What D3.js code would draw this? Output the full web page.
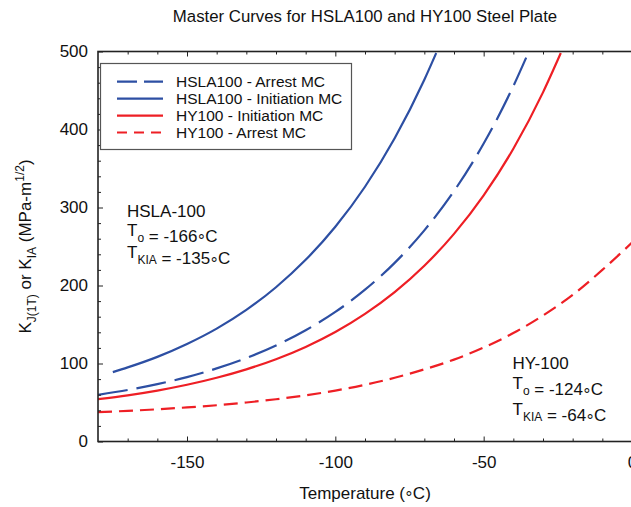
<!DOCTYPE html>
<html>
<head>
<meta charset="utf-8">
<script src="https://cdn.jsdelivr.net/npm/d3@7"></script>
<style>
  html, body { margin: 0; padding: 0; background: #fff; }
  svg { display: block; font-family: "Liberation Sans", Arial, sans-serif; }
</style>
</head>
<body>
<svg id="chart" width="631" height="507"></svg>
<script>
// Temperatures (°C) at which each master curve is tabulated
const tempHslaInit   = [-175, -170, -160, -150, -140, -130, -120, -110, -100, -90, -80, -70, -66];
const kHslaInit      = [89, 95, 108.5, 125, 144.7, 168.7, 197.8, 232.9, 275.3, 326.6, 388.7, 463.8, 498];

const tempHslaArrest = [-180, -170, -160, -150, -140, -130, -120, -110, -100, -90, -80, -70, -60, -50, -40, -35];
const kHslaArrest    = [59.8, 66, 73.5, 82.6, 93.7, 107, 123.1, 142.6, 166.1, 194.6, 229, 270.7, 321, 382, 455.6, 498];

const tempHyInit     = [-180, -170, -160, -150, -140, -130, -120, -110, -100, -90, -80, -70, -60, -50, -40, -30, -24];
const kHyInit        = [54.2, 59.2, 65.3, 72.7, 81.7, 92.5, 105.5, 121.3, 140.4, 163.6, 191.5, 225.3, 266.2, 315.6, 375.3, 447.6, 498];

const tempHyArrest   = [-180, -170, -160, -150, -140, -130, -120, -110, -100, -90, -80, -70, -60, -50, -40, -30, -20, -10, 0];
const kHyArrest      = [37.7, 39.3, 41.3, 43.7, 46.5, 50, 54.2, 59.2, 65.3, 72.7, 81.7, 92.5, 105, 120.5, 139, 161.5, 188, 220, 255];

const seriesNames = ["HSLA100 - Arrest MC", "HSLA100 - Initiation MC", "HY100 - Initiation MC", "HY100 - Arrest MC"];

const xTickValues = [-150, -100, -50, 0];
const yTickValues = [0, 100, 200, 300, 400, 500];

const BLUE = "#2d4fa3";
const RED  = "#ee1f25";

const series = [
  { name: seriesNames[0], t: tempHslaArrest, k: kHslaArrest, color: BLUE, dash: "30,9",  legendDash: "20,7" },
  { name: seriesNames[1], t: tempHslaInit,   k: kHslaInit,   color: BLUE, dash: null,    legendDash: null },
  { name: seriesNames[2], t: tempHyInit,     k: kHyInit,     color: RED,  dash: null,    legendDash: null },
  { name: seriesNames[3], t: tempHyArrest,   k: kHyArrest,   color: RED,  dash: "14,7",  legendDash: "10,7" }
];

const svg = d3.select("#chart");
const m = { left: 98, top: 51.5, right: 632, bottom: 441.5 };

const x = d3.scaleLinear().domain([-180, 0]).range([m.left, m.right]);
const y = d3.scaleLinear().domain([0, 500]).range([m.bottom, m.top]);

svg.append("defs").append("clipPath").attr("id", "plotClip")
  .append("rect").attr("x", m.left).attr("y", m.top)
  .attr("width", m.right - m.left).attr("height", m.bottom - m.top);

// Curves
const line = d3.line()
  .x(d => x(d[0])).y(d => y(d[1]))
  .curve(d3.curveMonotoneX);

const curves = svg.append("g").attr("clip-path", "url(#plotClip)");
series.forEach(s => {
  curves.append("path")
    .datum(s.t.map((t, i) => [t, s.k[i]]))
    .attr("d", line)
    .attr("fill", "none")
    .attr("stroke", s.color)
    .attr("stroke-width", 2.2)
    .attr("stroke-dasharray", s.dash);
});

// Axes with inward ticks (major + minor)
const axisColor = "#222";
const plainFormat = d => String(d);   // hyphen-minus, as printed on the plot
function styleAxis(g) {
  g.select(".domain").remove();
  g.selectAll(".tick line").attr("stroke", axisColor).attr("stroke-width", 1);
}

const xMinor = d3.range(-170, 1, 10).filter(v => v % 50 !== 0);
const yMinor = d3.range(20, 500, 20).filter(v => v % 100 !== 0);

// bottom
svg.append("g").attr("transform", `translate(0,${m.bottom})`)
  .call(d3.axisBottom(x).tickValues(xMinor).tickSize(-3).tickFormat(""))
  .call(styleAxis);
svg.append("g").attr("transform", `translate(0,${m.bottom})`)
  .call(d3.axisBottom(x).tickValues(xTickValues).tickSize(-5).tickPadding(14).tickFormat(plainFormat))
  .call(styleAxis)
  .call(g => g.selectAll("text").attr("fill", "#111").attr("font-size", "17px")
    .attr("font-family", "Liberation Sans, Arial, sans-serif"));
// top
svg.append("g").attr("transform", `translate(0,${m.top})`)
  .call(d3.axisTop(x).tickValues(xMinor).tickSize(-3).tickFormat(""))
  .call(styleAxis);
svg.append("g").attr("transform", `translate(0,${m.top})`)
  .call(d3.axisTop(x).tickValues(xTickValues).tickSize(-5).tickFormat(""))
  .call(styleAxis);
// left
svg.append("g").attr("transform", `translate(${m.left},0)`)
  .call(d3.axisLeft(y).tickValues(yMinor).tickSize(-3).tickFormat(""))
  .call(styleAxis);
svg.append("g").attr("transform", `translate(${m.left},0)`)
  .call(d3.axisLeft(y).tickValues(yTickValues).tickSize(-5).tickPadding(10).tickFormat(plainFormat))
  .call(styleAxis)
  .call(g => g.selectAll("text").attr("fill", "#111").attr("font-size", "17px")
    .attr("font-family", "Liberation Sans, Arial, sans-serif"));

// Frame
svg.append("rect")
  .attr("x", m.left).attr("y", m.top)
  .attr("width", m.right - m.left).attr("height", m.bottom - m.top)
  .attr("fill", "none").attr("stroke", axisColor).attr("stroke-width", 1.6);

// Text with a degree ring set at mid-height before "C"
function degreeC(sel, prefix) {
  sel.append("tspan").text(prefix);
  sel.append("tspan").attr("dy", 4.5).attr("dx", 0.5).text("\u00b0");
  sel.append("tspan").attr("dy", -4.5).attr("dx", 0.5).text("C");
}

// Title
svg.append("text")
  .attr("x", (m.left + m.right) / 2).attr("y", 22)
  .attr("text-anchor", "middle").attr("font-size", "16.8px").attr("fill", "#111")
  .text("Master Curves for HSLA100 and HY100 Steel Plate");

// X axis title
const xTitle = svg.append("text")
  .attr("x", (m.left + m.right) / 2).attr("y", 498.5)
  .attr("text-anchor", "middle").attr("font-size", "17px").attr("fill", "#111");
degreeC(xTitle, "Temperature (");
xTitle.append("tspan").text(")");

// Y axis title with sub/superscripts
const yTitle = svg.append("text")
  .attr("transform", `translate(31,${(m.top + m.bottom) / 2}) rotate(-90)`)
  .attr("text-anchor", "middle").attr("font-size", "17px").attr("fill", "#111");
yTitle.append("tspan").text("K");
yTitle.append("tspan").attr("font-size", "12px").attr("dy", 5).text("J(1T)");
yTitle.append("tspan").attr("dy", -5).text(" or K");
yTitle.append("tspan").attr("font-size", "12px").attr("dy", 5).text("IA");
yTitle.append("tspan").attr("dy", -5).text(" (MPa-m");
yTitle.append("tspan").attr("font-size", "12px").attr("dy", -7).text("1/2");
yTitle.append("tspan").attr("dy", 7).text(")");

// Material annotations
function annotate(x0, lines) {
  lines.forEach(l => {
    const t = svg.append("text").attr("x", x0).attr("y", l.y)
      .attr("font-size", "17px").attr("fill", "#111");
    if (l.sub) {
      t.append("tspan").text(l.main);
      t.append("tspan").attr("font-size", "12px").attr("dy", 6).text(l.sub);
      t.append("tspan").attr("dy", -6).text("");
      degreeC(t, l.rest);
    } else {
      t.append("tspan").text(l.main);
    }
  });
}
annotate(127, [
  { y: 216.7, main: "HSLA-100" },
  { y: 235.7, main: "T", sub: "o", rest: " = -166" },
  { y: 258.3, main: "T", sub: "KIA", rest: " = -135" }
]);
annotate(512.5, [
  { y: 369.3, main: "HY-100" },
  { y: 389, main: "T", sub: "o", rest: " = -124" },
  { y: 415, main: "T", sub: "KIA", rest: " = -64" }
]);

// Legend
const lg = svg.append("g");
lg.append("rect").attr("x", 100.5).attr("y", 63.5).attr("width", 251).attr("height", 86)
  .attr("fill", "#fff").attr("stroke", "#555").attr("stroke-width", 1.2);
const rowY = [81.7, 98.7, 115.7, 132.5];
series.forEach((s, i) => {
  lg.append("line").attr("x1", 117).attr("x2", 163).attr("y1", rowY[i]).attr("y2", rowY[i])
    .attr("stroke", s.color).attr("stroke-width", 2.2).attr("stroke-dasharray", s.legendDash);
  lg.append("text").attr("x", 176).attr("y", rowY[i] + 5.5)
    .attr("font-size", "15.5px").attr("fill", "#111").text(s.name);
});
</script>
</body>
</html>
